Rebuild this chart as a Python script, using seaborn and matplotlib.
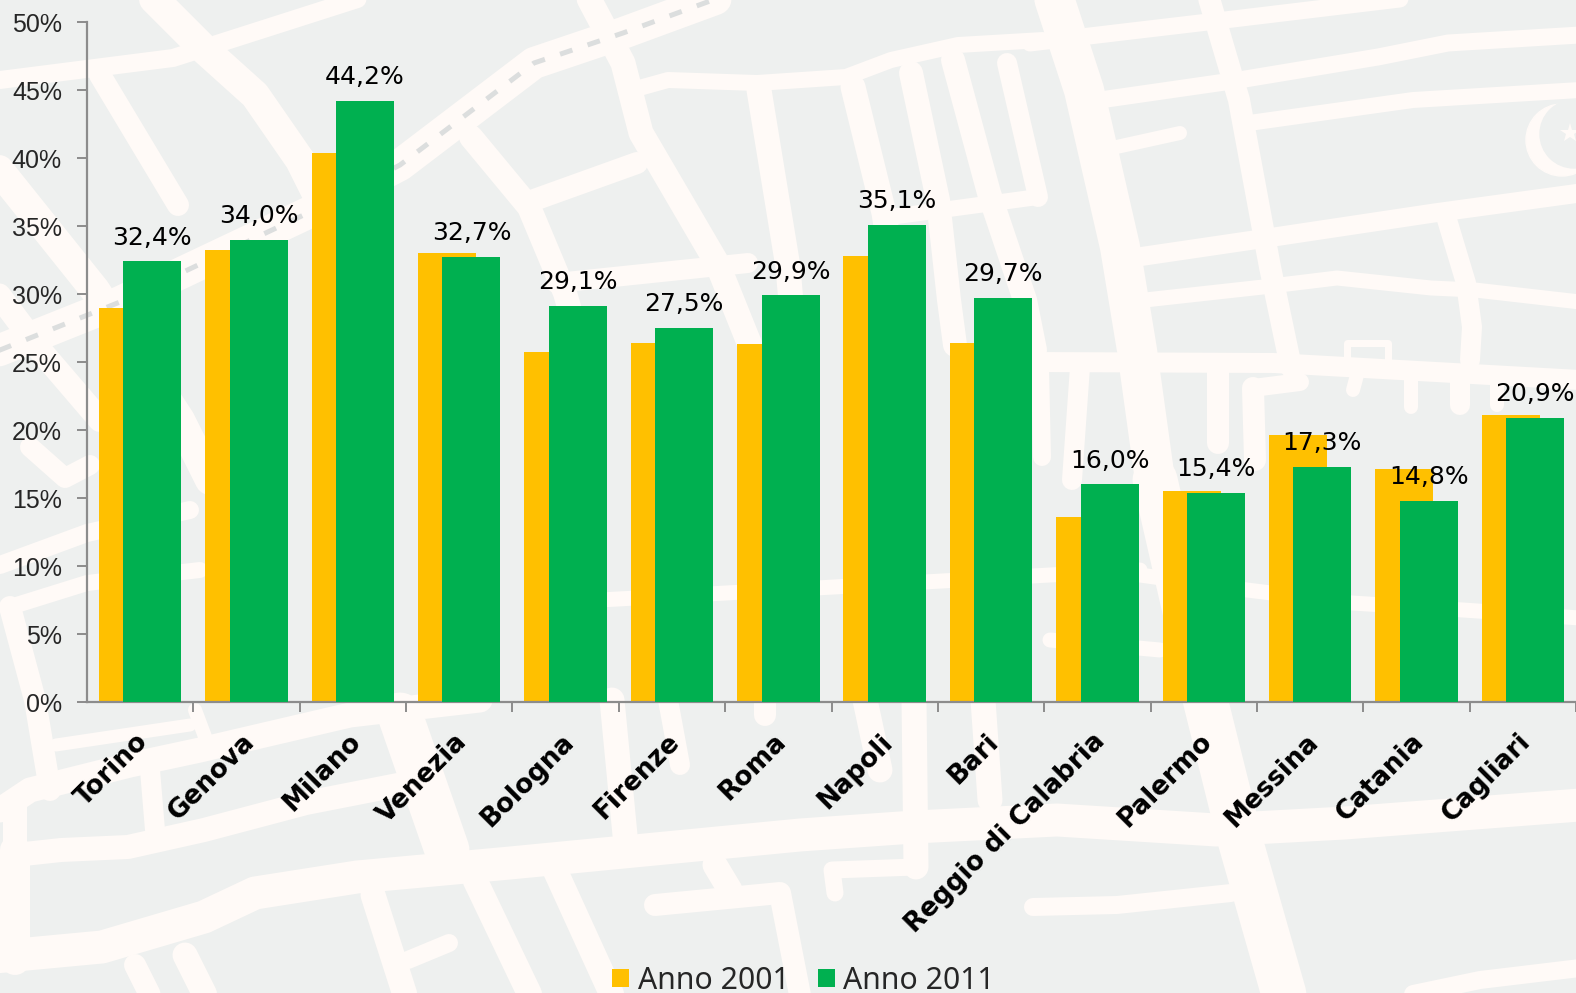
import numpy as np
import matplotlib
matplotlib.use("Agg")
import matplotlib.pyplot as plt
from matplotlib.patches import Circle
from matplotlib.transforms import ScaledTranslation
import seaborn as sns

cities = ["Torino", "Genova", "Milano", "Venezia", "Bologna", "Firenze", "Roma", "Napoli",
          "Bari", "Reggio di Calabria", "Palermo", "Messina", "Catania", "Cagliari"]
anno_2001 = [29.0, 33.2, 40.4, 33.0, 25.7, 26.4, 26.3, 32.8, 26.4, 13.6, 15.5, 19.6, 17.1, 21.1]
anno_2011 = [32.4, 34.0, 44.2, 32.7, 29.1, 27.5, 29.9, 35.1, 29.7, 16.0, 15.4, 17.3, 14.8, 20.9]
y_ticks = [0, 5, 10, 15, 20, 25, 30, 35, 40, 45, 50]

YELLOW, GREEN = "#FFC000", "#00B050"
ROAD, BLOCK, AXIS = "#FFFAF7", "#EEF0EF", "#8C8C8C"

# decorative street map behind the chart (width in px, polyline in image px)
rail = [(-5, 352), (120, 302), (310, 212), (400, 165), (534, 63), (623, 33), (740, -10)]
roads = [
    (18, [(0, 80), (173, 58), (370, -5)]),
    (30, [(150, -5), (205, 50), (255, 95), (300, 160), (340, 240), (360, 340)]),
    (22, [(100, 75), (178, 205)]),
    (32, rail),
    (30, [(-5, 165), (95, 290), (180, 420), (210, 480)]),
    (24, [(-5, 290), (40, 350), (100, 420)]),
    (20, [(30, 447), (65, 478), (90, 465)]),
    (18, [(0, 565), (87, 533), (190, 510)]),
    (16, [(10, 607), (87, 583), (200, 570)]),
    (22, [(10, 607), (35, 700), (50, 790)]),
    (25, [(0, 810), (30, 790), (130, 765), (200, 750), (350, 715), (480, 700)]),
    (24, [(15, 800), (15, 855), (61, 850), (128, 847), (204, 830), (306, 803), (408, 783)]),
    (30, [(15, 850), (15, 960)]),
    (33, [(-5, 957), (102, 947), (204, 917), (255, 893), (357, 877), (510, 863), (800, 835),
          (914, 827), (1057, 820), (1216, 830), (1345, 823), (1580, 805)]),
    (13, [(56, 745), (190, 725)]),
    (14, [(195, 710), (210, 750)]),
    (20, [(150, 770), (155, 830)]),
    (45, [(400, 715), (447, 850)]),
    (25, [(475, 880), (530, 995)]),
    (25, [(555, 870), (612, 995)]),
    (25, [(373, 895), (405, 995)]),
    (18, [(408, 960), (449, 943)]),
    (22, [(135, 965), (150, 995)]),
    (25, [(185, 955), (205, 995)]),
    (25, [(612, 700), (625, 835)]),
    (20, [(668, 700), (680, 765)]),
    (22, [(765, 700), (765, 715)]),
    (25, [(715, 865), (730, 890)]),
    (22, [(655, 905), (780, 893), (800, 995)]),
    (25, [(865, 700), (880, 770)]),
    (25, [(914, 700), (916, 867)]),
    (17, [(916, 867), (832, 870), (835, 893)]),
    (25, [(983, 700), (990, 800)]),
    (45, [(1155, 480), (1206, 703), (1240, 840), (1285, 998)]),
    (18, [(1033, 907), (1117, 905), (1231, 893)]),
    (18, [(1394, 998), (1480, 980), (1580, 968)]),
    (25, [(587, -5), (623, 63), (641, 133), (717, 263), (760, 370)]),
    (20, [(556, 283), (748, 263)]),
    (16, [(632, 90), (668, 80), (757, 83), (846, 77), (891, 60), (958, 45), (1043, 40)]),
    (25, [(759, 90), (788, 267), (795, 350)]),
    (25, [(853, 87), (884, 213), (905, 350)]),
    (24, [(911, 73), (938, 200), (949, 300), (955, 345)]),
    (24, [(953, 60), (989, 193), (1025, 300), (1035, 350)]),
    (20, [(1007, 63), (1038, 197)]),
    (16, [(1038, 197), (890, 217)]),
    (24, [(471, 137), (529, 207), (565, 293), (590, 380)]),
    (22, [(534, 200), (637, 163)]),
    (40, [(1053, -5), (1084, 90), (1120, 247), (1137, 350), (1155, 480)]),
    (17, [(1030, 43), (1208, 22), (1450, -7)]),
    (22, [(1208, -5), (1239, 100), (1270, 267), (1291, 367)]),
    (17, [(1100, 100), (1239, 80), (1378, 57), (1448, 43), (1580, 35)]),
    (16, [(1249, 123), (1413, 100), (1580, 90)]),
    (14, [(1112, 148), (1180, 133)]),
    (19, [(1138, 257), (1274, 237), (1434, 213), (1580, 193)]),
    (15, [(1145, 300), (1263, 287), (1337, 278), (1431, 288), (1475, 290), (1580, 302)]),
    (20, [(1445, 213), (1466, 283), (1472, 327), (1470, 360)]),
    (20, [(1030, 362), (1274, 363), (1580, 380)]),
    (20, [(1080, 367), (1072, 480)]),
    (22, [(1218, 367), (1218, 443)]),
    (18, [(1253, 388), (1300, 382)]),
    (22, [(1253, 388), (1255, 460)]),
    (18, [(1040, 367), (1042, 457)]),
    (7, [(1347, 363), (1347, 343), (1388, 343), (1388, 363)]),
    (14, [(1357, 375), (1353, 390)]),
    (14, [(1411, 377), (1411, 407)]),
    (20, [(1460, 377), (1460, 405)]),
    (14, [(1497, 377), (1497, 405)]),
    (15, [(1140, 575), (1247, 590), (1352, 603), (1463, 610), (1580, 618)]),
    (15, [(1050, 640), (1160, 650)]),
    (15, [(600, 600), (1140, 570)]),
]

sns.set_theme(style="white")
fig = plt.figure(figsize=(15.76, 9.93), dpi=100, facecolor=BLOCK)

bg = fig.add_axes([0, 0, 1, 1], zorder=0)
bg.set_xlim(0, 1576)
bg.set_ylim(993, 0)
bg.axis("off")
for width, pts in roads:
    xs, ys = zip(*pts)
    bg.plot(xs, ys, color=ROAD, lw=width * 0.72, solid_capstyle="round", solid_joinstyle="round")
xs, ys = zip(*rail)
bg.plot(xs, ys, color="#DCDEDE", lw=3.6, dashes=(2.6, 3.2))
bg.add_patch(Circle((1562, 140), 36, color=ROAD))
bg.add_patch(Circle((1574, 134), 34, color=BLOCK))
bg.plot([1570], [133], marker="*", ms=15, color=ROAD, mew=0)

left, right = 87 / 1576, 1.0
bottom, top = 1 - 702 / 993, 1 - 22 / 993
ax = fig.add_axes([left, bottom, right - left, top - bottom], zorder=1)
ax.patch.set_alpha(0)

pos = np.arange(len(cities), dtype=float)
sns.barplot(x=pos - 0.115, y=anno_2001, native_scale=True, width=0.545, color=YELLOW,
            saturation=1, linewidth=0, label="Anno 2001", ax=ax, zorder=2)
sns.barplot(x=pos + 0.115, y=anno_2011, native_scale=True, width=0.545, color=GREEN,
            saturation=1, linewidth=0, label="Anno 2011", ax=ax, zorder=3)
if ax.get_legend() is not None:
    ax.get_legend().remove()

ax.set_xlim(-0.5, len(cities) - 0.5)
ax.set_ylim(0, 50)
ax.set_xlabel("")
ax.set_ylabel("")

ax.set_yticks(y_ticks)
ax.set_yticklabels([f"{v}%" for v in y_ticks], fontsize=18, family="Liberation Sans", color="#262626")
ax.tick_params(axis="y", length=7.5, width=1.4, color=AXIS, pad=10.5, left=True)

ax.set_xticks(np.append(pos[1:] - 0.5, len(cities) - 0.5), minor=False)
ax.set_xticks(pos, minor=True)
ax.set_xticklabels([])
ax.tick_params(axis="x", which="major", length=7.5, width=1.4, color=AXIS, bottom=True)
ax.set_xticklabels(cities, minor=True, rotation=45, ha="right", va="top", rotation_mode="anchor",
                   fontsize=18.8, fontweight="bold", family="DejaVu Sans", color="black")
ax.tick_params(axis="x", which="minor", length=0, pad=19, bottom=False)
shift = ScaledTranslation(-5 / 100, 0, fig.dpi_scale_trans)
for lab in ax.get_xticklabels(minor=True):
    lab.set_transform(lab.get_transform() + shift)

sns.despine(ax=ax)
for side in ("left", "bottom"):
    ax.spines[side].set_color(AXIS)
    ax.spines[side].set_linewidth(1.6)

ax.bar_label(ax.containers[1], labels=[f"{v:.1f}%".replace(".", ",") for v in anno_2011],
             padding=8.5, fontsize=18, family="DejaVu Sans", color="black", clip_on=False, zorder=5)

fig.legend(handles=[ax.containers[0], ax.containers[1]], labels=["Anno 2001", "Anno 2011"],
           loc="lower center", bbox_to_anchor=(0.5098, -0.030), ncol=2, frameon=False,
           handlelength=0.58, handleheight=0.58, handletextpad=0.27, columnspacing=0.95,
           prop={"family": "Noto Sans", "size": 21.7})
fig.savefig("out.png", dpi=100, facecolor=fig.get_facecolor())
